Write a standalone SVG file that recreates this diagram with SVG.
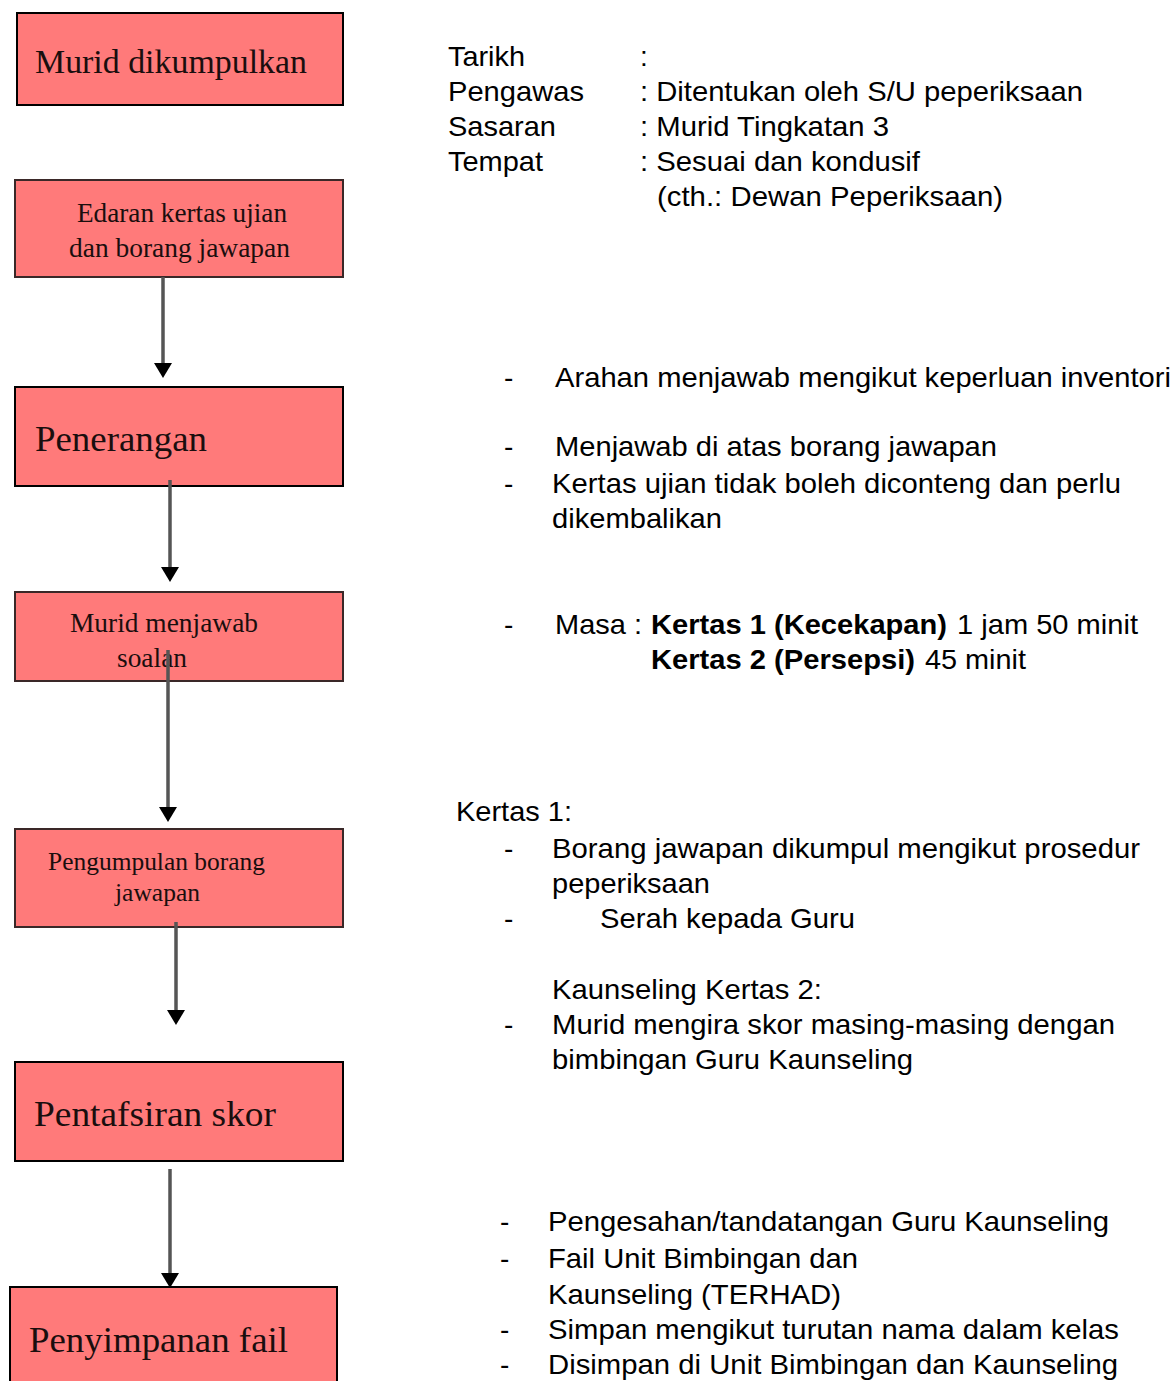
<svg xmlns="http://www.w3.org/2000/svg" width="1175" height="1381" viewBox="0 0 1175 1381">
<style>
.box{fill:#ff7a7a;stroke-width:2}
.b1{stroke:#000}
.b2{stroke:#3a2828}
.st{font-family:"Liberation Serif","Times New Roman",serif;fill:#1a0e0e}
.t{font-family:"Liberation Sans",Arial,sans-serif;font-size:28px;fill:#000}
.bd{font-weight:bold}
.conn{stroke:#555;stroke-width:3.5;fill:none}
</style>
<defs>
<marker id="ah" markerUnits="userSpaceOnUse" viewBox="0 -9 15 18" refX="0" refY="0" markerWidth="15" markerHeight="18" orient="auto">
<path d="M0,-9 L15,0 L0,9 z" fill="#000"/>
</marker>
</defs>
<rect width="1175" height="1381" fill="#fff"/>

<g id="n1"><rect class="box b1" x="17" y="13" width="326" height="92"/>
<text class="st" x="35" y="73" font-size="33" textLength="272" lengthAdjust="spacingAndGlyphs">Murid dikumpulkan</text></g>

<g id="n2"><rect class="box b2" x="15" y="180" width="328" height="97"/>
<text class="st" x="77" y="222" font-size="27" textLength="210" lengthAdjust="spacingAndGlyphs">Edaran kertas ujian</text>
<text class="st" x="69" y="257" font-size="27" textLength="221" lengthAdjust="spacingAndGlyphs">dan borang jawapan</text></g>

<g id="n3"><rect class="box b1" x="15" y="387" width="328" height="99"/>
<text class="st" x="35" y="451" font-size="36" textLength="172" lengthAdjust="spacingAndGlyphs">Penerangan</text></g>

<g id="n4"><rect class="box b2" x="15" y="592" width="328" height="89"/>
<text class="st" x="70" y="632" font-size="27" textLength="188" lengthAdjust="spacingAndGlyphs">Murid menjawab</text>
<text class="st" x="117" y="667" font-size="27" textLength="70" lengthAdjust="spacingAndGlyphs">soalan</text></g>

<g id="n5"><rect class="box b2" x="15" y="829" width="328" height="98"/>
<text class="st" x="48" y="870" font-size="26" textLength="217" lengthAdjust="spacingAndGlyphs">Pengumpulan borang</text>
<text class="st" x="115" y="901" font-size="26" textLength="85" lengthAdjust="spacingAndGlyphs">jawapan</text></g>

<g id="n6"><rect class="box b1" x="15" y="1062" width="328" height="99"/>
<text class="st" x="34" y="1126" font-size="36" textLength="242" lengthAdjust="spacingAndGlyphs">Pentafsiran skor</text></g>

<g id="n7"><rect class="box b1" x="10" y="1287" width="327" height="120"/>
<text class="st" x="29" y="1352" font-size="36" textLength="259" lengthAdjust="spacingAndGlyphs">Penyimpanan fail</text></g>

<g id="connectors">
<line class="conn" x1="163" y1="277" x2="163" y2="363" marker-end="url(#ah)"/>
<line class="conn" x1="170" y1="480" x2="170" y2="567" marker-end="url(#ah)"/>
<line class="conn" x1="168" y1="650" x2="168" y2="807" marker-end="url(#ah)"/>
<line class="conn" x1="176" y1="922" x2="176" y2="1010" marker-end="url(#ah)"/>
<line class="conn" x1="170" y1="1169" x2="170" y2="1273" marker-end="url(#ah)"/>
</g>

<g id="info">
<text class="t" x="448" y="66" textLength="77" lengthAdjust="spacingAndGlyphs">Tarikh</text>
<text class="t" x="640" y="66">:</text>
<text class="t" x="448" y="101" textLength="136" lengthAdjust="spacingAndGlyphs">Pengawas</text>
<text class="t" x="640" y="101" textLength="443" lengthAdjust="spacingAndGlyphs">: Ditentukan oleh S/U peperiksaan</text>
<text class="t" x="448" y="136" textLength="108" lengthAdjust="spacingAndGlyphs">Sasaran</text>
<text class="t" x="640" y="136" textLength="249" lengthAdjust="spacingAndGlyphs">: Murid Tingkatan 3</text>
<text class="t" x="448" y="171" textLength="95" lengthAdjust="spacingAndGlyphs">Tempat</text>
<text class="t" x="640" y="171" textLength="280" lengthAdjust="spacingAndGlyphs">: Sesuai dan kondusif</text>
<text class="t" x="657" y="206" textLength="346" lengthAdjust="spacingAndGlyphs">(cth.: Dewan Peperiksaan)</text>
</g>

<g id="notes-penerangan">
<text class="t" x="504" y="387">-</text>
<text class="t" x="555" y="387" textLength="616" lengthAdjust="spacingAndGlyphs">Arahan menjawab mengikut keperluan inventori</text>
<text class="t" x="504" y="456">-</text>
<text class="t" x="555" y="456" textLength="442" lengthAdjust="spacingAndGlyphs">Menjawab di atas borang jawapan</text>
<text class="t" x="504" y="493">-</text>
<text class="t" x="552" y="493" textLength="569" lengthAdjust="spacingAndGlyphs">Kertas ujian tidak boleh diconteng dan perlu</text>
<text class="t" x="552" y="528" textLength="170" lengthAdjust="spacingAndGlyphs">dikembalikan</text>
</g>

<g id="notes-menjawab">
<text class="t" x="504" y="634">-</text>
<text class="t" x="555" y="634" textLength="87" lengthAdjust="spacingAndGlyphs">Masa :</text>
<text class="t bd" x="651" y="634" textLength="296" lengthAdjust="spacingAndGlyphs">Kertas 1 (Kecekapan)</text>
<text class="t" x="957" y="634" textLength="181" lengthAdjust="spacingAndGlyphs">1 jam 50 minit</text>
<text class="t bd" x="651" y="669" textLength="264" lengthAdjust="spacingAndGlyphs">Kertas 2 (Persepsi)</text>
<text class="t" x="925" y="669" textLength="101" lengthAdjust="spacingAndGlyphs">45 minit</text>
</g>

<g id="notes-pengumpulan">
<text class="t" x="456" y="821" textLength="116" lengthAdjust="spacingAndGlyphs">Kertas 1:</text>
<text class="t" x="504" y="858">-</text>
<text class="t" x="552" y="858" textLength="588" lengthAdjust="spacingAndGlyphs">Borang jawapan dikumpul mengikut prosedur</text>
<text class="t" x="552" y="893" textLength="158" lengthAdjust="spacingAndGlyphs">peperiksaan</text>
<text class="t" x="504" y="928">-</text>
<text class="t" x="600" y="928" textLength="255" lengthAdjust="spacingAndGlyphs">Serah kepada Guru</text>
<text class="t" x="552" y="999" textLength="270" lengthAdjust="spacingAndGlyphs">Kaunseling Kertas 2:</text>
<text class="t" x="504" y="1034">-</text>
<text class="t" x="552" y="1034" textLength="563" lengthAdjust="spacingAndGlyphs">Murid mengira skor masing-masing dengan</text>
<text class="t" x="552" y="1069" textLength="361" lengthAdjust="spacingAndGlyphs">bimbingan Guru Kaunseling</text>
</g>

<g id="notes-penyimpanan">
<text class="t" x="500" y="1231">-</text>
<text class="t" x="548" y="1231" textLength="561" lengthAdjust="spacingAndGlyphs">Pengesahan/tandatangan Guru Kaunseling</text>
<text class="t" x="500" y="1268">-</text>
<text class="t" x="548" y="1268" textLength="310" lengthAdjust="spacingAndGlyphs">Fail Unit Bimbingan dan</text>
<text class="t" x="548" y="1304" textLength="293" lengthAdjust="spacingAndGlyphs">Kaunseling (TERHAD)</text>
<text class="t" x="500" y="1339">-</text>
<text class="t" x="548" y="1339" textLength="571" lengthAdjust="spacingAndGlyphs">Simpan mengikut turutan nama dalam kelas</text>
<text class="t" x="500" y="1374">-</text>
<text class="t" x="548" y="1374" textLength="570" lengthAdjust="spacingAndGlyphs">Disimpan di Unit Bimbingan dan Kaunseling</text>
</g>
</svg>
